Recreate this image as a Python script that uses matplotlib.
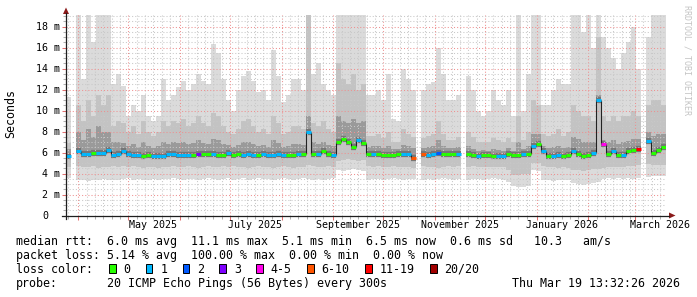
import numpy as np
import matplotlib
matplotlib.use("Agg")
import matplotlib.pyplot as plt
import matplotlib.dates as mdates
from matplotlib.patches import Rectangle, Polygon
from matplotlib.lines import Line2D
from matplotlib.transforms import offset_copy
from datetime import datetime, timedelta

nan = float("nan")

# yearly smokeping view, one value per 3 day bucket (ms)
t_end = datetime(2026, 3, 19, 13, 32, 26)
span_days = 360
bucket_days = 3

rtt_max = [
    11.3, nan, 19.5, 13.0, 19.5, 16.5, 19.5, 19.5, 19.5, 12.5,
    13.5, 12.3, 9.5, 10.5, 10.0, 11.5, 9.5, 9.0, 9.5, 13.0,
    11.0, 11.5, 12.2, 12.8, 12.0, 12.5, 13.5, 12.8, 12.5, 16.3,
    15.5, 13.0, 11.0, 10.0, 12.0, 13.3, 13.8, 12.8, 11.8, 12.0,
    11.0, 15.8, 13.3, 10.8, 11.5, 13.0, 13.0, 12.0, 19.5, 13.5,
    14.5, 12.5, 12.0, 11.5, 19.5, 19.5, 19.5, 19.5, 19.5, 19.5,
    11.5, 11.5, 12.0, 11.0, 13.5, 9.2, 9.0, 14.0, 13.0, 12.0,
    nan, 12.0, 12.5, 12.7, 16.0, 13.5, 11.0, 11.0, 11.5, nan,
    13.3, 12.0, 10.0, 9.5, 10.0, 12.0, 11.0, 10.5, 12.0, 9.5,
    19.5, 10.0, 13.5, 19.5, 19.5, 10.5, 10.5, 12.0, 13.0, 12.5,
    12.5, 19.5, 19.5, 17.5, 19.5, 16.0, 19.5, 17.0, 16.0, 15.0,
    14.0, 15.5, 16.5, 18.0, 14.0, nan, 17.0, 19.5, 19.5, 19.5,
]
rtt_hi2 = [
    6.9, nan, 10.5, 9.0, 11.0, 9.5, 11.5, 10.5, 11.5, 8.5,
    9.0, 8.8, 8.0, 8.5, 7.8, 9.0, 8.0, 7.6, 8.0, 9.0,
    8.5, 9.0, 8.8, 9.2, 8.5, 8.8, 9.5, 8.8, 8.5, 9.8,
    9.5, 8.5, 8.0, 7.8, 8.2, 9.0, 9.2, 8.5, 8.0, 8.2,
    7.8, 9.5, 8.8, 7.8, 8.0, 8.5, 8.5, 8.2, 19.5, 8.8,
    8.5, 9.0, 8.2, 8.0, 14.5, 13.0, 12.5, 13.5, 12.0, 12.5,
    7.6, 7.6, 7.8, 7.4, 8.0, 7.0, 7.0, 8.2, 7.8, 7.5,
    nan, 7.4, 7.6, 7.8, 9.0, 7.8, 7.2, 7.2, 7.5, nan,
    8.0, 7.5, 7.0, 7.0, 7.0, 7.4, 7.2, 7.0, 7.4, 7.0,
    9.5, 7.2, 8.0, 11.0, 10.5, 7.8, 7.6, 7.8, 8.2, 7.6,
    8.0, 10.5, 10.0, 9.5, 9.5, 9.0, 17.0, 9.5, 9.0, 9.5,
    9.0, 9.5, 9.5, 10.0, 9.5, nan, 10.5, 11.0, 11.0, 10.5,
]
rtt_hi1 = [
    6.3, nan, 8.0, 7.2, 8.2, 7.5, 8.5, 8.0, 8.0, 7.0,
    7.0, 6.9, 6.6, 6.8, 6.5, 7.0, 6.6, 6.4, 6.6, 7.0,
    6.8, 7.0, 6.9, 7.0, 6.8, 6.9, 7.2, 6.9, 6.8, 7.3,
    7.2, 6.8, 6.7, 6.5, 6.7, 7.0, 7.0, 6.8, 6.6, 6.7,
    6.5, 7.2, 6.9, 6.5, 6.6, 6.8, 6.8, 6.7, 9.5, 7.0,
    6.8, 7.0, 6.7, 6.6, 9.5, 9.0, 8.8, 9.2, 8.8, 9.0,
    6.5, 6.6, 6.6, 6.4, 6.6, 6.3, 6.3, 6.7, 6.6, 6.4,
    nan, 6.4, 6.5, 6.6, 7.2, 6.6, 6.4, 6.4, 6.5, nan,
    6.6, 6.3, 6.1, 6.2, 6.1, 6.3, 6.2, 6.1, 6.4, 6.1,
    7.0, 6.3, 6.6, 7.8, 7.8, 6.6, 6.4, 6.5, 6.6, 6.4,
    6.5, 7.5, 7.3, 7.0, 7.0, 7.0, 11.5, 7.2, 7.0, 7.2,
    6.8, 7.0, 7.1, 7.3, 7.3, nan, 8.0, 7.6, 7.8, 7.8,
]
rtt_median = [
    5.7, nan, 6.1, 5.9, 5.9, 5.95, 6.0, 6.0, 6.2, 5.8,
    5.9, 6.1, 5.9, 5.8, 5.8, 5.7, 5.75, 5.7, 5.65, 5.7,
    5.85, 5.9, 5.8, 5.8, 5.8, 5.8, 5.9, 5.85, 5.9, 5.85,
    5.8, 5.75, 6.0, 5.8, 5.85, 5.8, 5.85, 5.8, 5.8, 5.85,
    5.8, 5.8, 5.9, 5.8, 5.75, 5.8, 5.85, 5.9, 8.0, 5.9,
    5.85, 6.1, 5.85, 5.8, 7.0, 7.3, 7.0, 6.5, 7.2, 6.9,
    5.9, 5.9, 5.9, 5.8, 5.75, 5.8, 5.85, 5.85, 5.85, 5.5,
    nan, 5.9, 5.8, 5.9, 6.0, 5.9, 5.9, 5.9, 5.9, nan,
    5.9, 5.75, 5.7, 5.8, 5.75, 5.7, 5.7, 5.7, 5.85, 5.75,
    5.8, 5.85, 5.9, 6.6, 6.8, 6.1, 5.7, 5.7, 5.8, 5.7,
    5.8, 6.1, 5.9, 5.7, 5.8, 6.0, 11.0, 6.8, 5.9, 6.1,
    5.8, 5.8, 6.1, 6.2, 6.3, nan, 7.1, 6.0, 6.2, 6.5,
]
rtt_lo1 = [
    4.6, nan, 4.7, 4.6, 4.6, 4.7, 4.5, 4.6, 4.6, 4.7,
    4.6, 4.7, 4.6, 4.7, 4.6, 4.5, 4.6, 4.6, 4.5, 4.6,
    4.6, 4.7, 4.6, 4.6, 4.7, 4.6, 4.5, 4.6, 4.7, 4.6,
    4.6, 4.7, 4.6, 4.7, 4.6, 4.6, 4.5, 4.6, 4.7, 4.6,
    4.6, 4.5, 4.6, 4.7, 4.6, 4.5, 4.6, 4.6, 4.8, 4.7,
    4.6, 4.6, 4.7, 4.6, 5.2, 5.3, 5.4, 5.3, 5.2, 5.3,
    4.7, 4.6, 4.7, 4.6, 4.6, 4.7, 4.6, 4.6, 4.6, 4.5,
    nan, 4.7, 4.6, 4.6, 4.5, 4.6, 4.7, 4.6, 4.7, nan,
    4.6, 4.7, 4.6, 4.6, 4.6, 4.6, 4.6, 4.6, 4.3, 3.9,
    3.9, 4.0, 4.0, 5.0, 5.0, 4.7, 4.6, 4.6, 4.5, 4.6,
    4.5, 4.3, 4.3, 4.2, 4.3, 4.4, 4.4, 4.5, 4.6, 4.6,
    4.6, 4.6, 4.7, 4.7, 4.8, nan, 4.9, 4.8, 4.8, 4.8,
]
rtt_lo2 = [
    3.6, nan, 3.4, 3.4, 3.3, 3.4, 3.4, 3.5, 3.4, 3.4,
    3.4, 3.5, 3.6, 3.4, 3.5, 3.4, 3.4, 3.5, 3.4, 3.5,
    3.5, 3.6, 3.5, 3.4, 3.5, 3.5, 3.4, 3.5, 3.6, 3.5,
    3.4, 3.5, 3.6, 3.4, 3.5, 3.6, 3.4, 3.5, 3.6, 3.5,
    3.5, 3.4, 3.5, 3.6, 3.5, 3.4, 3.5, 3.6, 3.5, 3.4,
    3.5, 3.4, 3.5, 3.6, 4.3, 4.2, 4.3, 4.4, 4.3, 4.2,
    3.4, 3.5, 3.5, 3.4, 3.5, 3.6, 3.5, 3.4, 3.5, 3.5,
    nan, 3.4, 3.5, 3.4, 3.5, 3.6, 3.5, 3.4, 3.5, nan,
    3.4, 3.5, 3.5, 3.4, 3.5, 3.6, 3.5, 3.4, 3.2, 2.8,
    2.7, 2.7, 2.8, 4.3, 4.2, 3.4, 3.4, 3.3, 3.4, 3.4,
    3.4, 3.1, 3.0, 2.9, 3.0, 3.1, 3.2, 3.5, 3.6, 3.5,
    3.6, 3.5, 3.6, 3.5, 3.6, nan, 3.7, 3.8, 3.8, 3.8,
]
# index into loss_labels / loss_colors
loss_class = [
    1, 0, 1, 1, 1, 0, 1, 1, 1, 1,
    1, 1, 1, 1, 1, 0, 0, 1, 1, 1,
    1, 1, 1, 1, 1, 0, 3, 0, 0, 1,
    0, 0, 1, 0, 0, 1, 1, 1, 0, 1,
    1, 1, 1, 1, 0, 0, 1, 0, 1, 0,
    1, 0, 0, 1, 0, 0, 0, 0, 1, 0,
    0, 1, 0, 0, 0, 0, 0, 1, 1, 5,
    0, 5, 1, 1, 2, 0, 0, 0, 1, 0,
    0, 0, 1, 0, 0, 0, 1, 1, 0, 0,
    0, 1, 0, 1, 0, 1, 0, 1, 1, 0,
    0, 1, 0, 0, 0, 1, 1, 4, 0, 1,
    0, 1, 0, 0, 6, 0, 1, 0, 0, 0,
]

loss_labels = ["0", "1", "2", "3", "4-5", "6-10", "11-19", "20/20"]
loss_colors = ["#26ff00", "#00b8ff", "#0059ff", "#7e00ff",
               "#ff00ea", "#ff5500", "#ff0000", "#a10000"]

month_labels = ["May 2025", "July 2025", "September 2025",
                "November 2025", "January 2026", "March 2026"]
ytick_vals = [0, 2, 4, 6, 8, 10, 12, 14, 16, 18]
ytick_labels = ["0", "2 m", "4 m", "6 m", "8 m", "10 m", "12 m", "14 m", "16 m", "18 m"]

stats_lines = [
    "median rtt:  6.0 ms avg  11.1 ms max  5.1 ms min  6.5 ms now  0.6 ms sd   10.3   am/s",
    "packet loss: 5.14 % avg  100.00 % max  0.00 % min  0.00 % now",
]
probe_text = "20 ICMP Echo Pings (56 Bytes) every 300s"
stamp_text = "Thu Mar 19 13:32:26 2026"

MONO = "DejaVu Sans Mono"
W, H = 697, 297


def fx(x):
    return x / W


def fy(y):
    return 1 - y / H


fig = plt.figure(figsize=(W / 100, H / 100), dpi=100, facecolor="white")
ax = fig.add_axes([fx(66), fy(215.5), 600 / W, 200.5 / H])
for s in ax.spines.values():
    s.set_visible(False)

t_start = t_end - timedelta(days=span_days)
x0 = mdates.date2num(t_start)
edges = x0 + bucket_days * np.arange(len(rtt_median) + 1)


def step(vals):
    xs = np.column_stack([edges[:-1], edges[1:]]).ravel()
    return xs, np.repeat(np.asarray(vals, float), 2)


xs, mx = step(rtt_max)
_, hi2 = step(rtt_hi2)
_, hi1 = step(rtt_hi1)
_, md = step(rtt_median)
_, lo1 = step(rtt_lo1)
_, lo2 = step(rtt_lo2)

# smoke, lightest outside -> darkest around the median
ax.fill_between(xs, lo2, mx, color="#dbdbdb", lw=0, zorder=1.0)
ax.fill_between(xs, lo1, hi2, color="#c3c3c3", lw=0, zorder=1.1)
ax.fill_between(xs, md, hi1, color="#9a9a9a", lw=0, zorder=1.2)
med = np.asarray(rtt_median, float)
ax.hlines(med, edges[:-1], edges[1:], color="#767676", lw=4.5,
          capstyle="butt", zorder=1.3)

# median line, coloured by packet loss
ax.vlines(edges[1:-1], med[:-1], med[1:], color="#222222", lw=0.8, zorder=3)
ax.hlines(med, edges[:-1], edges[1:], colors=[loss_colors[c] for c in loss_class],
          lw=2.2, capstyle="butt", zorder=3.1)

ax.set_xlim(x0, mdates.date2num(t_end))
ax.set_ylim(0, 200.5 / 10.5)

ax.set_yticks(ytick_vals)
ax.set_yticks(np.arange(0, 19.01, 0.5), minor=True)
ax.xaxis.set_major_locator(mdates.MonthLocator())
ax.xaxis.set_minor_locator(mdates.DayLocator(bymonthday=[6, 11, 16, 21, 26]))
ax.set_axisbelow(False)
dots = (0, (1, 2))
ax.grid(which="minor", color="#c8c8c8", ls=dots, lw=0.75)
ax.grid(which="major", color="#ee9090", ls=dots, lw=0.75)
ax.tick_params(which="major", length=3, width=0.75, color="#e07070",
               labelleft=False, labelbottom=False)
ax.tick_params(which="minor", length=2, width=0.75, color="#b0b0b0")

# y labels
for v, lbl in zip(ytick_vals, ytick_labels):
    dx = -6 if " " in lbl else -18
    tr = offset_copy(ax.get_yaxis_transform(), fig=fig, x=dx, y=-3.6, units="dots")
    ax.text(0, v, lbl, transform=tr, ha="right", va="baseline",
            family=MONO, fontsize=7.2, color="#000000")

# month labels, centred on the middle of the month
tr = offset_copy(ax.get_xaxis_transform(), fig=fig, y=-13, units="dots")
for lbl in month_labels:
    mid = datetime.strptime(lbl, "%B %Y") + timedelta(days=15)
    ax.text(mdates.date2num(mid), 0, lbl, transform=tr, ha="center",
            va="baseline", family=MONO, fontsize=7.2, clip_on=False)

# axes with arrows
axis_col = "#1e1e1e"
arrow_col = "#8b1a1a"
fig.add_artist(Line2D([fx(62), fx(669)], [fy(215.5), fy(215.5)], color=axis_col, lw=0.9))
fig.add_artist(Line2D([fx(66), fx(66)], [fy(218.5), fy(13)], color=axis_col, lw=0.9))
fig.add_artist(Polygon([(fx(669), fy(212.5)), (fx(675.5), fy(215.5)), (fx(669), fy(218.5))],
                       closed=True, color=arrow_col, lw=0))
fig.add_artist(Polygon([(fx(63), fy(14)), (fx(66), fy(7.5)), (fx(69), fy(14))],
                       closed=True, color=arrow_col, lw=0))

fig.text(fx(11), fy(114), "Seconds", rotation=90, ha="center", va="center",
         family=MONO, fontsize=8.4)
fig.text(fx(687.5), fy(5), "RRDTOOL / TOBI OETIKER", rotation=270, ha="center",
         va="top", family=MONO, fontsize=6.0, color="#c4c4c4")

# legend block
base = [245.3, 259.3, 273.0, 287.0]
for line, y in zip(stats_lines, base):
    fig.text(fx(16), fy(y), line, ha="left", va="baseline", family=MONO, fontsize=8.4)

fig.text(fx(16), fy(base[2]), "loss color:", ha="left", va="baseline",
         family=MONO, fontsize=8.4)
char_w = 7.03
bx = 109.0
for lbl, col in zip(loss_labels, loss_colors):
    fig.add_artist(Rectangle((fx(bx), fy(273.0)), 6.5 / W, 8.7 / H, facecolor=col,
                             edgecolor="black", lw=0.7, transform=fig.transFigure))
    tx = bx + 14.5
    fig.text(fx(tx), fy(base[2]), lbl, ha="left", va="baseline", family=MONO, fontsize=8.4)
    bx = tx + len(lbl) * char_w + 15.3

fig.text(fx(16), fy(base[3]), "probe:", ha="left", va="baseline", family=MONO, fontsize=8.4)
fig.text(fx(107.3), fy(base[3]), probe_text, ha="left", va="baseline",
         family=MONO, fontsize=8.4)
fig.text(fx(680.5), fy(base[3]), stamp_text, ha="right", va="baseline",
         family=MONO, fontsize=8.4)

fig.savefig("out.png", dpi=100, facecolor="white")
